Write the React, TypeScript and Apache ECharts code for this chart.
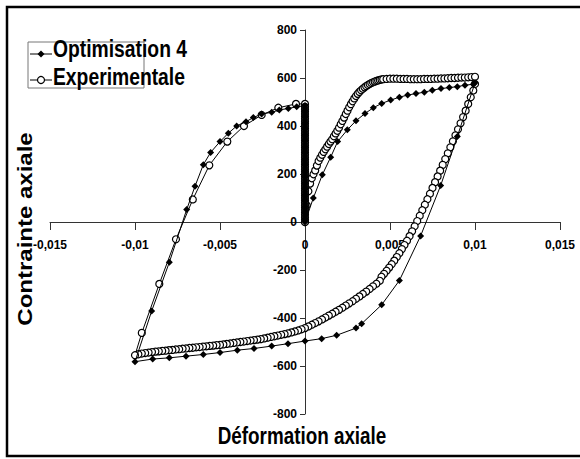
import React, { useEffect, useRef } from "react";
import * as echarts from "echarts";

const seriesNames = ["Optimisation 4", "Experimentale"];
const xTickLabels = ["-0,015", "-0,01", "-0,005", "0", "0,005", "0,01", "0,015"];
const xTickValues = [-0.015, -0.01, -0.005, 0, 0.005, 0.01, 0.015];
const yTickLabels = ["-800", "-600", "-400", "-200", "0", "200", "400", "600", "800"];
const yTickValues = [-800, -600, -400, -200, 0, 200, 400, 600, 800];
const xTitle = "Déformation axiale";
const yTitle = "Contrainte axiale";

// Optimisation 4 (filled diamonds)
const optLoading: number[][] = [
  [0, 0], [0.00049, 100], [0.00102, 197], [0.00151, 270], [0.00192, 335], [0.00249, 384],
  [0.003, 422], [0.00353, 452], [0.00402, 476], [0.00451, 494], [0.00504, 508], [0.00555, 520],
  [0.00604, 529], [0.00653, 535], [0.00702, 541], [0.00749, 549], [0.008, 556], [0.00849, 560],
  [0.00896, 564], [0.00941, 570], [0.0099, 574], [0.01, 580],
];
const optUnloading: number[][] = [
  [0.00896, 356], [0.00798, 152], [0.0068, -58], [0.00555, -244], [0.00451, -345],
  [0.00333, -424], [0.003, -442], [0.00186, -472], [0.00098, -486], [0, -496],
  [-0.001, -507], [-0.00196, -517], [-0.003, -527], [-0.00398, -534], [-0.005, -544],
  [-0.00598, -552], [-0.007, -559], [-0.00798, -566], [-0.00896, -571], [-0.01, -582],
];
const optReloading: number[][] = [
  [-0.00902, -371], [-0.00798, -168], [-0.00696, 52], [-0.00647, 149], [-0.00598, 239],
  [-0.00555, 290], [-0.005, 335], [-0.00451, 370], [-0.00402, 400], [-0.00347, 418],
  [-0.00304, 435], [-0.00255, 450], [-0.00196, 457], [-0.00151, 467], [-0.00098, 473],
  [-0.00049, 480], [0, 485],
];
const optReturn: number[][] = [
  [0, 475], [0, 465], [0, 455], [0, 445], [0, 435], [0, 425], [0, 415], [0, 405], [0, 395],
  [0, 385], [0, 375], [0, 365], [0, 355], [0, 345], [0, 335], [0, 325], [0, 315], [0, 305],
  [0, 295], [0, 285], [0, 275], [0, 265], [0, 255], [0, 245], [0, 235], [0, 225], [0, 215],
  [0, 205], [0, 195], [0, 185], [0, 175], [0, 165], [0, 155], [0, 145], [0, 135], [0, 125],
  [0, 115], [0, 105], [0, 95], [0, 85], [0, 75], [0, 65], [0, 55], [0, 45], [0, 35], [0, 25],
  [0, 15], [0, 5],
];

// Experimentale (open circles)
const expLoading: number[][] = [
  [0, 0], [0.0001, 70], [0.0002, 128], [0.0003, 160], [0.0004, 182], [0.0005, 199],
  [0.0006, 215], [0.0007, 235], [0.0008, 254], [0.0009, 268], [0.001, 280], [0.0011, 292],
  [0.0012, 303], [0.0013, 314], [0.0014, 325], [0.0015, 335], [0.0016, 345], [0.0017, 357],
  [0.0018, 369], [0.0019, 380], [0.002, 393], [0.0021, 407], [0.0022, 421], [0.0023, 435],
  [0.0024, 450], [0.0025, 464], [0.0026, 478], [0.0027, 491], [0.0028, 503], [0.0029, 515],
  [0.003, 525], [0.0031, 534], [0.0032, 542], [0.0033, 549], [0.0034, 555], [0.0035, 561],
  [0.0036, 566], [0.0037, 571], [0.0038, 575], [0.0039, 579], [0.004, 582], [0.0041, 585],
  [0.0042, 588], [0.0043, 590], [0.0044, 592], [0.0045, 594], [0.0046, 595], [0.0048, 596],
  [0.005, 597], [0.0052, 597], [0.0054, 597], [0.0056, 596], [0.0058, 596], [0.006, 596],
  [0.0062, 595], [0.0064, 595], [0.0066, 595], [0.0068, 595], [0.007, 596], [0.0072, 596],
  [0.0074, 596], [0.0076, 597], [0.0078, 597], [0.008, 598], [0.0082, 598], [0.0084, 599],
  [0.0086, 600], [0.0088, 600], [0.009, 601], [0.0092, 602], [0.0094, 602], [0.0096, 603],
  [0.0098, 604], [0.01, 605],
];
const expUnloading: number[][] = [
  [0.01, 575], [0.0099, 548], [0.00975, 520], [0.0096, 492], [0.00945, 464], [0.0093, 437],
  [0.00915, 411], [0.009, 386], [0.00885, 361], [0.0087, 336], [0.00855, 311], [0.0084, 286],
  [0.00825, 262], [0.0081, 238], [0.00795, 214], [0.0078, 190], [0.00765, 166], [0.0075, 142],
  [0.00735, 118], [0.0072, 95], [0.00705, 72], [0.0069, 49], [0.00675, 26], [0.0066, 4],
  [0.00645, -18], [0.0063, -39], [0.00615, -59], [0.006, -78], [0.00585, -96], [0.0057, -113],
  [0.00555, -130], [0.0054, -146], [0.00525, -161], [0.0051, -176], [0.00495, -190],
  [0.0048, -203], [0.00465, -216], [0.0045, -228], [0.0044, -245], [0.0042, -257],
  [0.004, -268], [0.0038, -279], [0.0036, -290], [0.0034, -300], [0.0032, -310], [0.003, -320],
  [0.0028, -330], [0.0026, -339], [0.0024, -348], [0.0022, -357], [0.002, -366], [0.0018, -374],
  [0.0016, -382], [0.0014, -390], [0.0012, -398], [0.001, -406], [0.0008, -414], [0.0006, -421],
  [0.0004, -428], [0.0002, -435], [0, -442], [-0.0002, -447], [-0.0004, -452], [-0.0006, -456],
  [-0.0008, -460], [-0.001, -464], [-0.0012, -467], [-0.0014, -470], [-0.0016, -473],
  [-0.0018, -476], [-0.002, -479], [-0.0022, -482], [-0.0024, -485], [-0.0026, -488],
  [-0.0028, -490], [-0.003, -492], [-0.0032, -494], [-0.0034, -496], [-0.0036, -498],
  [-0.0038, -500], [-0.004, -502], [-0.0042, -504], [-0.0044, -506], [-0.0046, -508],
  [-0.0048, -510], [-0.005, -512], [-0.0052, -513], [-0.0054, -515], [-0.0056, -516],
  [-0.0058, -518], [-0.006, -519], [-0.0062, -521], [-0.0064, -522], [-0.0066, -524],
  [-0.0068, -525], [-0.007, -527], [-0.0072, -528], [-0.0074, -530], [-0.0076, -531],
  [-0.0078, -533], [-0.008, -534], [-0.0082, -536], [-0.0084, -537], [-0.0086, -539],
  [-0.0088, -540], [-0.009, -542], [-0.0092, -544], [-0.0094, -546], [-0.0096, -548],
  [-0.0098, -551], [-0.01, -555],
];
const expReloading: number[][] = [
  [-0.0096, -462], [-0.00857, -258], [-0.00759, -72], [-0.0066, 94], [-0.00563, 236],
  [-0.00457, 335], [-0.00359, 400], [-0.00255, 446], [-0.00157, 476], [-0.00053, 492],
  [0, 492],
];
const expReturn: number[][] = [
  [0, 480], [0, 470], [0, 460], [0, 450], [0, 440], [0, 430], [0, 420], [0, 410], [0, 400],
  [0, 390], [0, 380], [0, 370], [0, 360], [0, 350], [0, 340], [0, 330], [0, 320], [0, 310],
  [0, 300], [0, 290], [0, 280], [0, 270], [0, 260], [0, 250], [0, 240], [0, 230], [0, 220],
  [0, 210], [0, 200], [0, 190], [0, 180], [0, 170], [0, 160], [0, 150], [0, 140], [0, 130],
  [0, 120], [0, 110], [0, 100], [0, 90], [0, 80], [0, 70], [0, 60], [0, 50], [0, 40], [0, 30],
  [0, 20], [0, 10], [0, 0],
];

const optData = [...optLoading, ...optUnloading, ...optReloading, ...optReturn];
const expData = [...expLoading, ...expUnloading, ...expReloading, ...expReturn];

const narrow = "'Liberation Sans Narrow', 'Arial Narrow', 'Liberation Sans', Arial, sans-serif";
const sans = "'Liberation Sans', Arial, sans-serif";

const X_MIN = -0.015, X_MAX = 0.015, Y_MIN = -800, Y_MAX = 800;
const GRID = { left: 50, top: 30, width: 510, height: 384 };
// Axes cross at the origin in the reference
const xAxisOffset = -GRID.height * (0 - Y_MIN) / (Y_MAX - Y_MIN);
const yAxisOffset = -GRID.width * (0 - X_MIN) / (X_MAX - X_MIN);

function labelFor(values: number[], labels: string[], v: number) {
  for (let i = 0; i < values.length; i++) {
    if (Math.abs(values[i] - v) < 1e-9) return labels[i];
  }
  return "";
}

export default function App() {
  const ref = useRef<HTMLDivElement>(null);
  useEffect(() => {
    if (!ref.current) return;
    const chart = echarts.init(ref.current, undefined, { renderer: "svg" });
    const legendText = {
      fontFamily: sans,
      fontWeight: "bold",
      fontSize: 23,
      fill: "#000",
      align: "left",
      verticalAlign: "middle",
    };
    chart.setOption({
      animation: false,
      backgroundColor: "#fff",
      grid: { ...GRID, containLabel: false },
      xAxis: {
        type: "value",
        position: "bottom",
        offset: xAxisOffset,
        min: X_MIN,
        max: X_MAX,
        interval: 0.005,
        splitLine: { show: false },
        axisLine: { onZero: false, lineStyle: { color: "#333", width: 1 } },
        axisTick: { show: true, inside: false, length: 8, lineStyle: { color: "#333" } },
        axisLabel: {
          margin: 17,
          color: "#000",
          fontFamily: narrow,
          fontWeight: "bold",
          fontSize: 12,
          formatter: (v: number) => labelFor(xTickValues, xTickLabels, v),
        },
      },
      yAxis: {
        type: "value",
        position: "left",
        offset: yAxisOffset,
        min: Y_MIN,
        max: Y_MAX,
        interval: 200,
        splitLine: { show: false },
        axisLine: { onZero: false, lineStyle: { color: "#333", width: 1 } },
        axisTick: { show: true, length: 5, lineStyle: { color: "#333" } },
        axisLabel: {
          margin: 8,
          color: "#000",
          fontFamily: narrow,
          fontWeight: "bold",
          fontSize: 12,
          formatter: (v: number) => labelFor(yTickValues, yTickLabels, v),
        },
      },
      series: [
        {
          name: seriesNames[0],
          type: "line",
          data: optData,
          symbol: "diamond",
          symbolSize: 7,
          lineStyle: { color: "#000", width: 1 },
          itemStyle: { color: "#000" },
          z: 3,
        },
        {
          name: seriesNames[1],
          type: "line",
          data: expData,
          symbol: "circle",
          symbolSize: 7,
          lineStyle: { color: "#000", width: 1 },
          itemStyle: { color: "#fff", borderColor: "#000", borderWidth: 1.2 },
          z: 2,
        },
      ],
      graphic: [
        {
          type: "rect",
          shape: { x: 7, y: 7, width: 600, height: 449 },
          style: { fill: "none", stroke: "#000", lineWidth: 2.5 },
          silent: true,
        },
        {
          type: "rect",
          shape: { x: 28, y: 42, width: 116, height: 46 },
          style: { fill: "none", stroke: "#777", lineWidth: 1 },
          silent: true,
        },
        // legend entry 1
        { type: "line", shape: { x1: 30, y1: 54, x2: 52, y2: 54 }, style: { stroke: "#000", lineWidth: 1 } },
        {
          type: "polygon",
          shape: { points: [[41, 50.5], [44.5, 54], [41, 57.5], [37.5, 54]] },
          style: { fill: "#000" },
        },
        { type: "text", x: 53, y: 49, scaleX: 0.84, style: { ...legendText, text: seriesNames[0] } },
        // legend entry 2
        { type: "line", shape: { x1: 30, y1: 80, x2: 52, y2: 80 }, style: { stroke: "#000", lineWidth: 1 } },
        {
          type: "circle",
          shape: { cx: 41, cy: 80, r: 3.5 },
          style: { fill: "#fff", stroke: "#000", lineWidth: 1.2 },
        },
        { type: "text", x: 53, y: 77, scaleX: 0.84, style: { ...legendText, text: seriesNames[1] } },
        {
          type: "text",
          x: 302,
          y: 436,
          scaleX: 0.82,
          style: {
            text: xTitle,
            fontFamily: sans,
            fontWeight: "bold",
            fontSize: 23,
            fill: "#000",
            align: "center",
            verticalAlign: "middle",
          },
        },
        {
          type: "text",
          x: 25,
          y: 229,
          rotation: Math.PI / 2,
          scaleX: 1.2,
          style: {
            text: yTitle,
            fontFamily: sans,
            fontWeight: "bold",
            fontSize: 20,
            fill: "#000",
            align: "center",
            verticalAlign: "middle",
          },
        },
      ],
    });
    return () => chart.dispose();
  }, []);
  return <div ref={ref} style={{ width: 580, height: 459, position: "absolute", left: 0, top: 0 }} />;
}
